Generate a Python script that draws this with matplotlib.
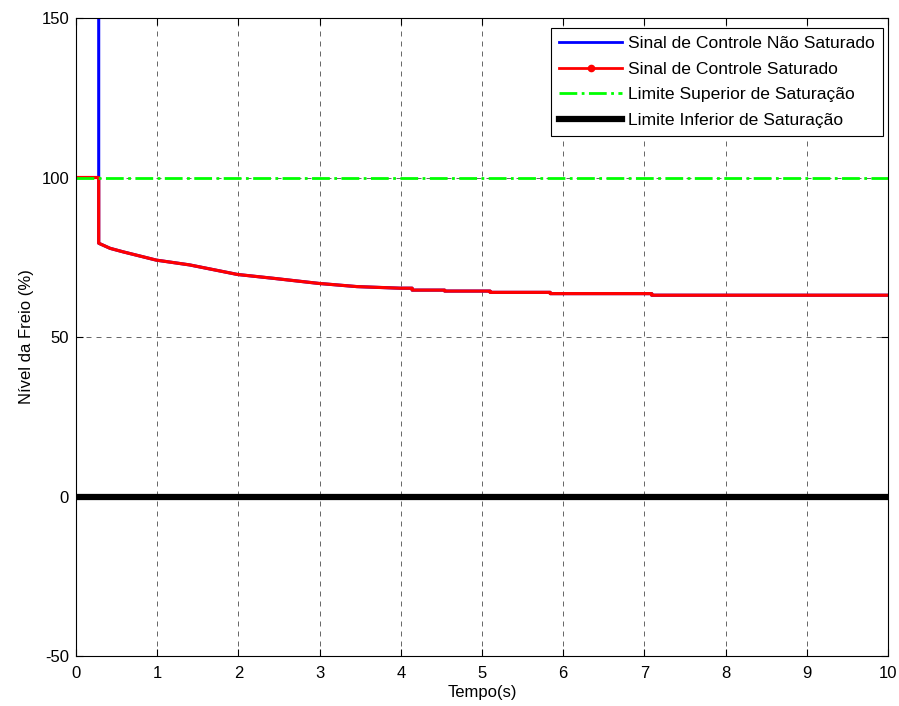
import numpy as np
import matplotlib
matplotlib.use("Agg")
import matplotlib.pyplot as plt
from matplotlib.lines import Line2D

plt.rcParams['font.family'] = ['Liberation Sans', 'DejaVu Sans']
plt.rcParams['axes.unicode_minus'] = False

# brake signal samples (time in s, level in %)
t_sat = [0.0, 0.28, 0.28, 0.42, 0.58, 0.99, 1.4, 1.99, 2.43, 2.99, 3.46, 3.99,
         4.14, 4.14, 4.54, 4.54, 5.10, 5.10, 5.84, 5.84, 7.09, 7.09, 10.0]
u_sat = [100.0, 100.0, 79.4, 77.8, 76.7, 74.1, 72.6, 69.6, 68.4, 66.8, 65.8, 65.3,
         65.3, 64.7, 64.7, 64.4, 64.4, 64.0, 64.0, 63.6, 63.6, 63.1, 63.1]
t_unsat = [0.0, 0.28] + t_sat[2:]
u_unsat = [400.0, 400.0] + u_sat[2:]

upper_limit = 100
lower_limit = 0
t_range = [0, 10]

fig = plt.figure(figsize=(8.99, 7.06), dpi=100)
ax = fig.add_axes([0.0845, 0.0708, 0.9033, 0.9037])

ax.plot(t_unsat, u_unsat, color='blue', lw=2.2)
ax.plot(t_sat, u_sat, color='red', lw=2.3)
ax.plot(t_range, [upper_limit, upper_limit], color='#00ff00', lw=2, ls='-.')
ax.plot(t_range, [lower_limit, lower_limit], color='black', lw=4.5)

ax.set_xlim(0, 10)
ax.set_ylim(-50, 150)
ax.set_xticks(range(0, 11))
ax.set_yticks([-50, 0, 50, 100, 150])
ax.grid(True, color='black', ls=(0, (6, 6)), lw=0.6, alpha=0.7)
ax.tick_params(direction='in', top=True, right=True, labelsize=12, length=5)
ax.tick_params(axis='x', pad=7)
ax.tick_params(axis='y', pad=5)
for s in ax.spines.values():
    s.set_linewidth(0.8)

ax.set_xlabel('Tempo(s)', fontsize=12, labelpad=3)
ax.set_ylabel('Nível da Freio (%)', fontsize=12, labelpad=5)

handles = [
    Line2D([], [], color='blue', lw=2),
    Line2D([], [], color='red', lw=2, marker='.', markersize=9),
    Line2D([], [], color='#00ff00', lw=2, ls='-.'),
    Line2D([], [], color='black', lw=4.5),
]
labels = ['Sinal de Controle Não Saturado', 'Sinal de Controle Saturado',
          'Limite Superior de Saturação', 'Limite Inferior de Saturação']
leg = ax.legend(handles, labels, loc='upper right', fontsize=12.6, fancybox=False,
                framealpha=1, edgecolor='black', borderaxespad=0.3,
                bbox_to_anchor=(1, 0.992),
                handlelength=3.6, handletextpad=0.35, labelspacing=0.58,
                borderpad=0.45)
leg.get_frame().set_linewidth(0.8)

fig.savefig('out.png', dpi=100)
